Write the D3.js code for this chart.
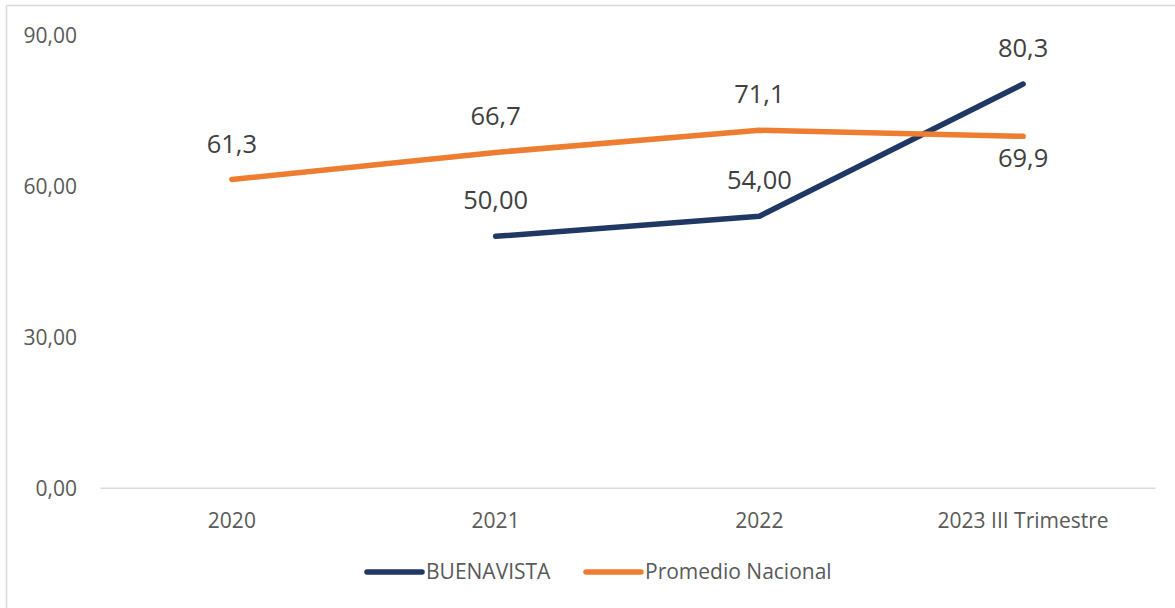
<!DOCTYPE html>
<html>
<head>
<meta charset="utf-8">
<script src="https://cdn.jsdelivr.net/npm/d3@7"></script>
<style>
  html, body { margin: 0; padding: 0; background: #fff; }
  svg { display: block; font-family: "Open Sans", "Liberation Sans", sans-serif; }
</style>
</head>
<body>
<svg id="chart" width="1175" height="608"></svg>
<script>
// Categories along the x axis
const categories = ["2020", "2021", "2022", "2023 III Trimestre"];

// Series values (null = no data for that period)
const buenavista = [null, 50.00, 54.00, 80.3];
const promedio = [61.3, 66.7, 71.1, 69.9];

// Data label text as printed next to each point
const buenavistaLabels = [null, "50,00", "54,00", "80,3"];
const promedioLabels = ["61,3", "66,7", "71,1", "69,9"];
// Label placement relative to the point: "above" or "below"
const promedioLabelPos = ["above", "above", "above", "below"];
const buenavistaLabelPos = [null, "above", "above", "above"];

// Y axis ticks
const yTicks = [0, 30, 60, 90];

const seriesNames = ["BUENAVISTA", "Promedio Nacional"];
const colors = ["#1F3864", "#ED7D31"];

const svg = d3.select("#chart");
const W = 1175, H = 608;

// Frame edges (top and left only)
svg.append("line")
  .attr("x1", 6.5).attr("x2", W).attr("y1", 5.5).attr("y2", 5.5)
  .attr("stroke", "#d9d9d9").attr("stroke-width", 1.5);
svg.append("line")
  .attr("x1", 6.5).attr("x2", 6.5).attr("y1", 5.5).attr("y2", H)
  .attr("stroke", "#d9d9d9").attr("stroke-width", 1.5);

const plot = { left: 100, right: 1155, top: 35.3, bottom: 487.7 };

const x = d3.scaleBand()
  .domain(categories)
  .range([plot.left, plot.right]);

const y = d3.scaleLinear()
  .domain([0, 90])
  .range([plot.bottom, plot.top]);

const fmt = v => d3.format(".2f")(v).replace(".", ",");

// Y axis labels (no axis line, no gridlines)
const yAxis = d3.axisLeft(y).tickValues(yTicks).tickSize(0).tickFormat(fmt);
const yG = svg.append("g")
  .attr("transform", `translate(${plot.left - 23},0)`)
  .call(yAxis);
yG.select(".domain").remove();
yG.selectAll("text")
  .attr("x", 0)
  .attr("dy", "0.35em")
  .style("font-family", "'Open Sans', sans-serif")
  .style("font-size", "21px")
  .attr("fill", "#595959");

// X axis: baseline and category labels
const xAxis = d3.axisBottom(x).tickSize(0).tickPadding(0);
const xG = svg.append("g")
  .attr("transform", `translate(0,${plot.bottom})`)
  .call(xAxis);
xG.select(".domain")
  .attr("stroke", "#d9d9d9")
  .attr("stroke-width", 1.5);
xG.selectAll("text")
  .attr("y", 40)
  .attr("dy", 0)
  .style("font-family", "'Open Sans', sans-serif")
  .style("font-size", "21px")
  .attr("fill", "#595959");

const cx = c => x(c) + x.bandwidth() / 2;

const line = d3.line()
  .defined(d => d.v != null)
  .x(d => cx(d.c))
  .y(d => y(d.v));

const series = [
  { name: seriesNames[0], values: buenavista, labels: buenavistaLabels, pos: buenavistaLabelPos, color: colors[0] },
  { name: seriesNames[1], values: promedio, labels: promedioLabels, pos: promedioLabelPos, color: colors[1] }
];

// Lines
series.forEach(s => {
  const pts = categories.map((c, i) => ({ c, v: s.values[i] }));
  svg.append("path")
    .datum(pts)
    .attr("d", line)
    .attr("fill", "none")
    .attr("stroke", s.color)
    .attr("stroke-width", 5.5)
    .attr("stroke-linecap", "round")
    .attr("stroke-linejoin", "round");
});

// Data labels
series.forEach(s => {
  categories.forEach((c, i) => {
    if (s.values[i] == null) return;
    const py = y(s.values[i]);
    const above = s.pos[i] === "above";
    svg.append("text")
      .attr("x", cx(c))
      .attr("y", above ? py - 27 : py + 31)
      .attr("text-anchor", "middle")
      .style("font-family", "'Open Sans', sans-serif")
      .style("font-size", "25.5px")
      .attr("fill", "#404040")
      .text(s.labels[i]);
  });
});

// Legend
const legendY = 572;
const legendItems = [
  { x1: 367, x2: 422, tx: 426, name: seriesNames[0], color: colors[0] },
  { x1: 586, x2: 641, tx: 645, name: seriesNames[1], color: colors[1] }
];
legendItems.forEach(d => {
  svg.append("line")
    .attr("x1", d.x1).attr("x2", d.x2)
    .attr("y1", legendY).attr("y2", legendY)
    .attr("stroke", d.color)
    .attr("stroke-width", 5.5)
    .attr("stroke-linecap", "round");
  svg.append("text")
    .attr("x", d.tx)
    .attr("y", legendY)
    .attr("dy", "0.35em")
    .style("font-family", "'Open Sans', sans-serif")
    .style("font-size", "21px")
    .attr("fill", "#595959")
    .text(d.name);
});
</script>
</body>
</html>
